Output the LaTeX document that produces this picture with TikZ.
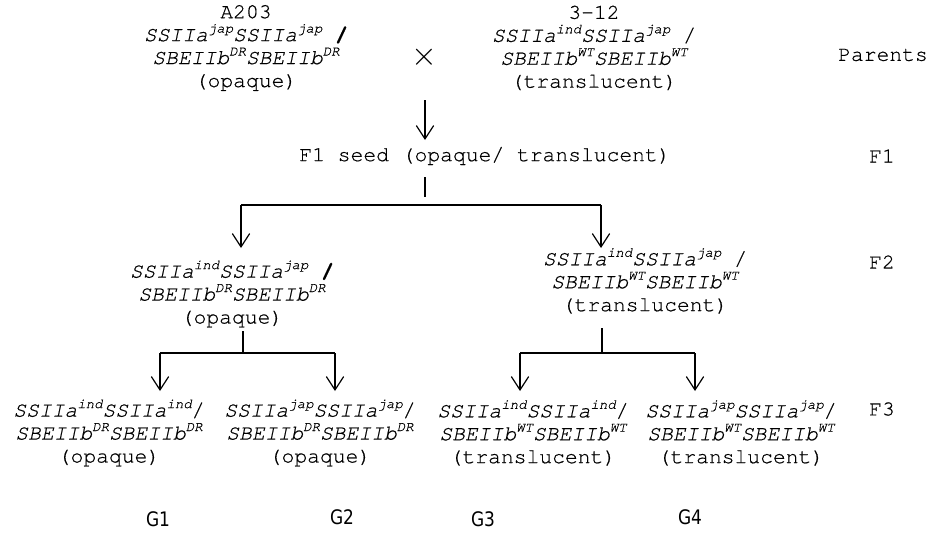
\documentclass[tikz,border=0pt]{standalone}
\usepackage{fontspec}
\usepackage{tikz}
\usetikzlibrary{arrows.meta}
\setmonofont{texgyrecursor}[Extension=.otf, UprightFont=*-regular, BoldFont=*-bold, ItalicFont=*-italic, BoldItalicFont=*-bolditalic, FakeBold=0.5]
\newfontfamily\gfont[FakeStretch=0.85]{DejaVu Sans}

% allele superscripts and genotype lines
\newcommand{\alsup}[1]{\raisebox{0.4em}{\fontsize{10.5}{10.5}\selectfont #1}}
\newcommand{\ssline}[2]{\textit{SSIIa\alsup{#1}SSIIa\alsup{#2}}}
\newcommand{\sbline}[1]{\textit{SBEIIb\alsup{#1}SBEIIb\alsup{#1}}}

\tikzset{
	geno/.style={align=center, inner sep=0pt, font=\ttfamily\fontsize{16}{17.2}\selectfont},
	gen/.style={inner sep=0pt, font=\ttfamily\fontsize{16}{17.2}\selectfont},
	grp/.style={inner sep=0pt, font=\gfont\fontsize{15}{15}\selectfont},
	arr/.style={line width=0.9pt, -{Straight Barb[length=10pt,width=13pt]}},
	ln/.style={line width=0.9pt}
}

\begin{document}
\begin{tikzpicture}[x=0.75pt,y=0.75pt,yscale=-1,xscale=1]
	\useasboundingbox (0,0) rectangle (935,533);
	
	% parents
	\node[geno] (par1) at (246,48) {A203\\ \ssline{jap}{jap} \textbf{/}\\ \sbline{DR}\\ (opaque)};
	\node[inner sep=0pt, font=\fontsize{26}{26}\selectfont] (cross) at (424,57) {$\times$};
	\node[geno] (par2) at (594,48) {3-12\\ \ssline{ind}{jap} /\\ \sbline{WT}\\ (translucent)};
	\node[gen] (gparents) at (883,55) {Parents};
	
	% F1
	\coordinate (a1) at (425,100);
	\coordinate (a2) at (425,140);
	\draw[arr] (a1) -- (a2);
	\node[gen] (f1) at (485,156) {F1 seed (opaque/ translucent)};
	\node[gen] (gf1) at (882,156) {F1};
	
	% split into F2
	\coordinate (t1) at (425,177);
	\coordinate (t2) at (425,197);
	\coordinate (s1) at (241,205);
	\coordinate (s2) at (601,205);
	\coordinate (e1) at (241,248);
	\coordinate (e2) at (601,248);
	\draw[ln] (t1) -- (t2);
	\draw[ln] (s1) -- (s2);
	\draw[arr] (s1) -- (e1);
	\draw[arr] (s2) -- (e2);
	
	% F2
	\node[geno] (f2a) at (232,294) {\ssline{ind}{jap} \textbf{/}\\ \sbline{DR}\\ (opaque)};
	\node[geno] (f2b) at (645,281) {\ssline{ind}{jap} /\\ \sbline{WT}\\ (translucent)};
	\node[gen] (gf2) at (882,262) {F2};
	
	% split into F3, opaque side
	\coordinate (b1) at (243,331);
	\coordinate (b2) at (243,353);
	\coordinate (b3) at (160,353);
	\coordinate (b4) at (335,353);
	\coordinate (d3) at (160,391);
	\coordinate (d4) at (335,391);
	\draw[ln] (b1) -- (b2);
	\draw[ln] (b3) -- (b4);
	\draw[arr] (b3) -- (d3);
	\draw[arr] (b4) -- (d4);
	
	% split into F3, translucent side
	\coordinate (c1) at (602,328);
	\coordinate (c2) at (602,353);
	\coordinate (c3) at (520,353);
	\coordinate (c4) at (695,353);
	\coordinate (g3) at (520,391);
	\coordinate (g4) at (695,391);
	\draw[ln] (c1) -- (c2);
	\draw[ln] (c3) -- (c4);
	\draw[arr] (c3) -- (g3);
	\draw[arr] (c4) -- (g4);
	
	% F3
	\node[geno] (f3a) at (109,433) {\ssline{ind}{ind}/\\ \sbline{DR}\\ (opaque)};
	\node[geno] (f3b) at (320,433) {\ssline{jap}{jap}/\\ \sbline{DR}\\ (opaque)};
	\node[geno] (f3c) at (533,433) {\ssline{ind}{ind}/\\ \sbline{WT}\\ (translucent)};
	\node[geno] (f3d) at (741,433) {\ssline{jap}{jap}/\\ \sbline{WT}\\ (translucent)};
	\node[gen] (gf3) at (882,409) {F3};
	
	% groups
	\node[grp] (G1) at (158,519) {G1};
	\node[grp] (G2) at (342,517) {G2};
	\node[grp] (G3) at (483,519) {G3};
	\node[grp] (G4) at (690,517) {G4};
	
\end{tikzpicture}
\end{document}
